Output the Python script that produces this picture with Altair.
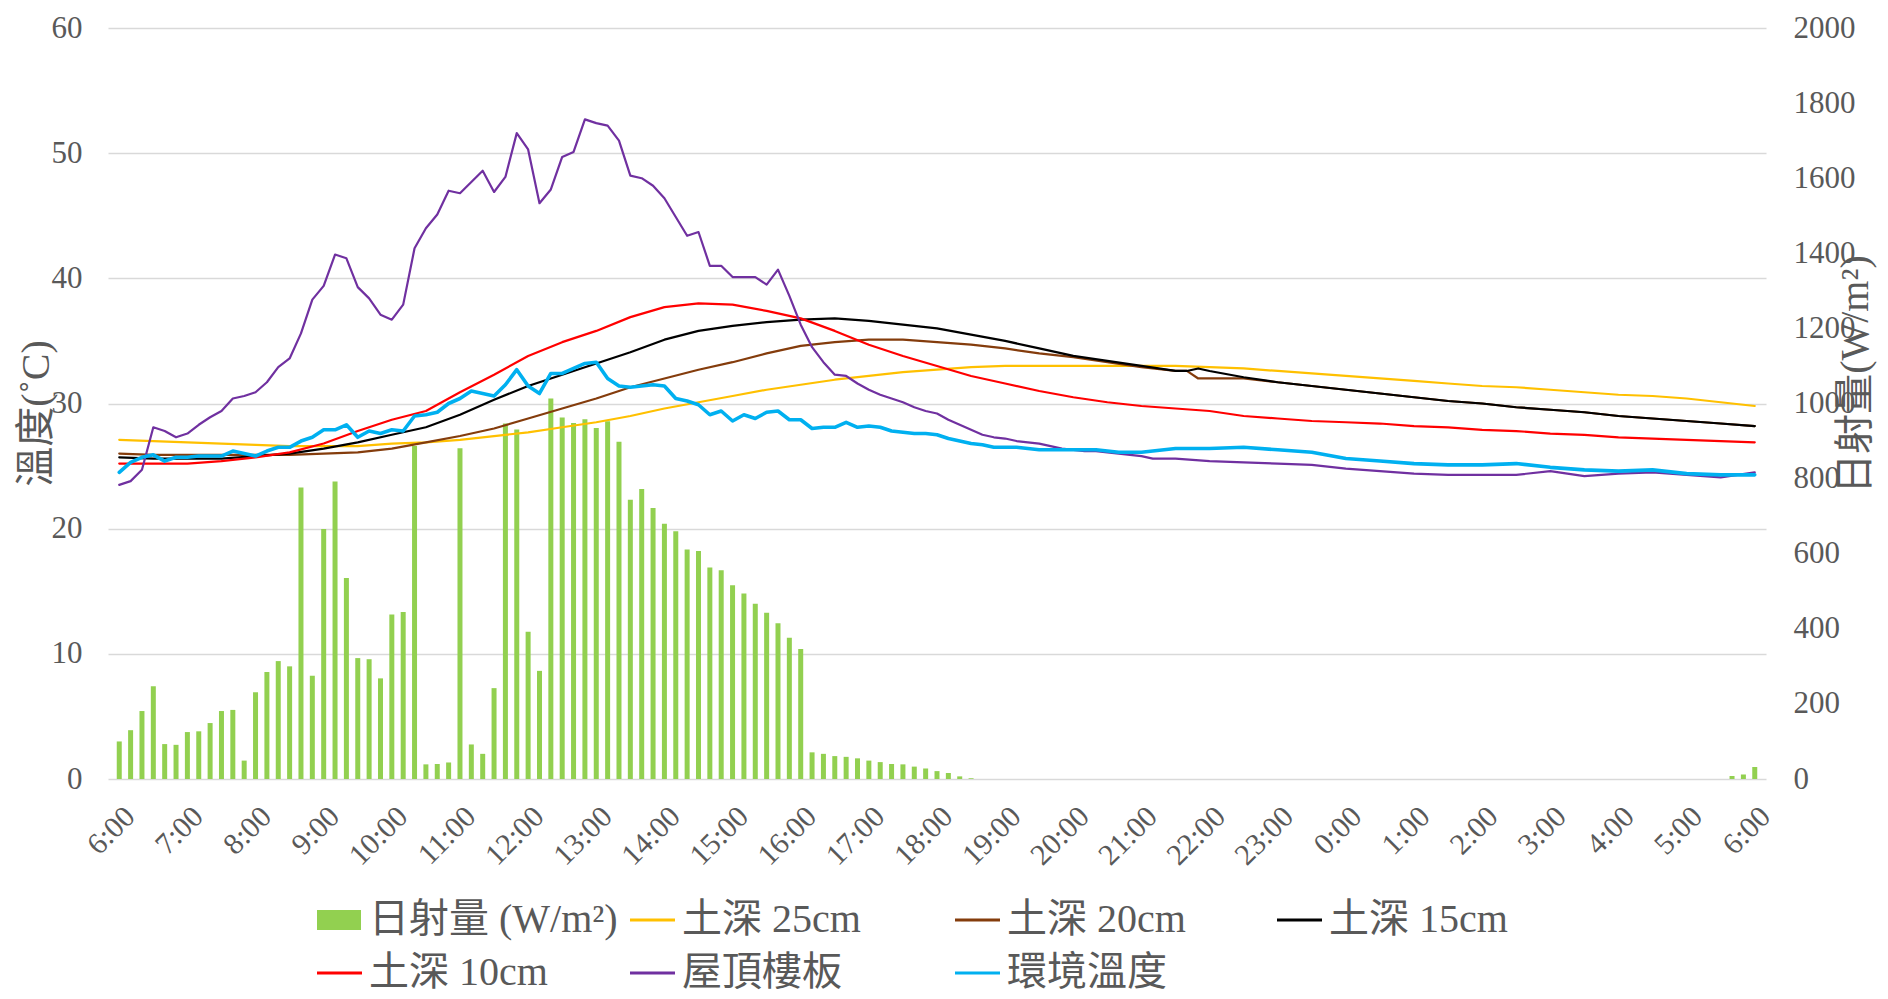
import altair as alt
import pandas as pd

FONT = "Liberation Serif, Noto Sans CJK TC"
TEXT_COLOR = "#595959"
GRID_COLOR = "#d9d9d9"

# ---------------- data ----------------
# 10-minute solar radiation (W/m2), 6:00 -> 6:00 next day
RADIATION = [
    100, 130, 181, 247, 93, 91,
    125, 127, 149, 181, 184, 49,
    231, 285, 314, 300, 776, 275,
    666, 792, 535, 322, 319, 268,
    438, 445, 887, 39, 40, 44,
    881, 92, 67, 242, 947, 931,
    392, 288, 1013, 963, 948, 958,
    935, 953, 898, 744, 772, 722,
    680, 660, 611, 607, 563, 556,
    516, 494, 467, 443, 415, 376,
    346, 71, 67, 61, 59, 55,
    49, 45, 40, 39, 33, 28,
    21, 16, 7, 2, 0, 0,
] + [0] * 60 + [0, 0, 0, 0, 8, 12, 32]

# half-hourly soil temperatures (deg C), 6:00 -> 6:00
SOIL25 = [27.1, 27.0, 26.9, 26.8, 26.7, 26.6, 26.6, 26.6, 26.8, 26.9,
          27.1, 27.4, 27.7, 28.1, 28.5, 29.0, 29.6, 30.1, 30.6, 31.1,
          31.5, 31.9, 32.2, 32.5, 32.7, 32.9, 33.0, 33.0, 33.0, 33.0,
          33.0, 33.0, 32.9, 32.8, 32.6, 32.4, 32.2, 32.0, 31.8, 31.6,
          31.4, 31.3, 31.1, 30.9, 30.7, 30.6, 30.4, 30.1, 29.8]
SOIL10 = [25.2, 25.2, 25.2, 25.4, 25.7, 26.1, 26.8, 27.8, 28.7, 29.4,
          30.9, 32.3, 33.8, 34.9, 35.8, 36.9, 37.7, 38.0, 37.9, 37.4,
          36.8, 35.8, 34.7, 33.8, 33.0, 32.2, 31.6, 31.0, 30.5, 30.1,
          29.8, 29.6, 29.4, 29.0, 28.8, 28.6, 28.5, 28.4, 28.2, 28.1,
          27.9, 27.8, 27.6, 27.5, 27.3, 27.2, 27.1, 27.0, 26.9]
# half-hourly plus 21:40 and 21:50
SOIL20 = [26.0, 25.9, 25.9, 25.9, 25.9, 25.9, 26.0, 26.1, 26.4, 26.9,
          27.4, 28.0, 28.8, 29.6, 30.4, 31.3, 32.0, 32.7, 33.3, 34.0,
          34.6, 34.9, 35.1, 35.1, 34.9, 34.7, 34.4, 34.0, 33.7, 33.3,
          32.9, 32.6, 32.6, 32.0, 32.0, 32.0, 31.7, 31.4, 31.1, 30.8, 30.5, 30.2,
          30.0, 29.7, 29.5, 29.3, 29.0, 28.8, 28.6, 28.4, 28.2]
SOIL15 = [25.7, 25.6, 25.6, 25.6, 25.8, 26.0, 26.4, 26.9, 27.5, 28.1,
          29.1, 30.3, 31.4, 32.3, 33.2, 34.1, 35.1, 35.8, 36.2, 36.5,
          36.7, 36.8, 36.6, 36.3, 36.0, 35.5, 35.0, 34.4, 33.8, 33.4,
          33.0, 32.6, 32.6, 32.8, 32.6, 32.1, 31.7, 31.4, 31.1, 30.8, 30.5, 30.2,
          30.0, 29.7, 29.5, 29.3, 29.0, 28.8, 28.6, 28.4, 28.2]
# 10-minute values 6:00-21:30, then half-hourly 22:00-6:00
ROOF = [23.5, 23.8, 24.7, 28.1, 27.8, 27.3,
        27.6, 28.3, 28.9, 29.4, 30.4, 30.6,
        30.9, 31.7, 32.9, 33.6, 35.6, 38.3,
        39.4, 41.9, 41.6, 39.3, 38.4, 37.1,
        36.7, 37.9, 42.4, 44.0, 45.1, 47.0,
        46.8, 47.7, 48.6, 46.9, 48.1, 51.6,
        50.3, 46.0, 47.1, 49.7, 50.1, 52.7,
        52.4, 52.2, 51.0, 48.2, 48.0, 47.4,
        46.4, 44.9, 43.4, 43.7, 41.0, 41.0,
        40.1, 40.1, 40.1, 39.5, 40.7, 38.6,
        36.3, 34.5, 33.3, 32.3, 32.2, 31.6,
        31.1, 30.7, 30.4, 30.1, 29.7, 29.4,
        29.2, 28.7, 28.3, 27.9, 27.5, 27.3,
        27.2, 27.0, 26.9, 26.8, 26.6, 26.4,
        26.3, 26.2, 26.2, 26.1, 26.0, 25.9,
        25.8, 25.6, 25.6, 25.6,
        25.4, 25.3, 25.2, 25.1, 24.8, 24.6, 24.4, 24.3, 24.3,
        24.3, 24.6, 24.2, 24.4, 24.5, 24.3, 24.1, 24.5]
AMBIENT = [24.5, 25.3, 25.7, 25.9, 25.4, 25.7,
           25.7, 25.8, 25.8, 25.8, 26.2, 26.0,
           25.8, 26.2, 26.5, 26.5, 27.0, 27.3,
           27.9, 27.9, 28.3, 27.3, 27.8, 27.6,
           27.9, 27.8, 29.0, 29.1, 29.3, 30.0,
           30.4, 31.0, 30.8, 30.6, 31.5, 32.7,
           31.4, 30.8, 32.4, 32.4, 32.8, 33.2,
           33.3, 32.0, 31.4, 31.3, 31.4, 31.5,
           31.4, 30.4, 30.2, 29.9, 29.1, 29.4,
           28.6, 29.1, 28.8, 29.3, 29.4, 28.7,
           28.7, 28.0, 28.1, 28.1, 28.5, 28.1,
           28.2, 28.1, 27.8, 27.7, 27.6, 27.6,
           27.5, 27.2, 27.0, 26.8, 26.7, 26.5,
           26.5, 26.5, 26.4, 26.3, 26.3, 26.3,
           26.3, 26.3, 26.3, 26.2, 26.1, 26.1,
           26.1, 26.2, 26.3, 26.4,
           26.4, 26.5, 26.3, 26.1, 25.6, 25.4, 25.2, 25.1, 25.1,
           25.2, 24.9, 24.7, 24.6, 24.7, 24.4, 24.3, 24.3]

BAR_NAME = "日射量 (W/m²)"
LINE_NAMES = ["土深 25cm", "土深 20cm", "土深 15cm", "土深 10cm", "屋頂樓板", "環境溫度"]
LINE_COLORS = ["#ffc000", "#843c0c", "#000000", "#ff0000", "#7030a0", "#00b0f0"]
LINE_WIDTHS = [2.2, 2.2, 2.2, 2.2, 2.2, 3.6]

# time axes (minutes after 6:00)
HOUR_TICKS = list(range(0, 1441, 60))
RAD_T = [10 * i for i in range(len(RADIATION))]
HALF_T = list(range(0, 1441, 30))
BUMP_T = HALF_T[:32] + [940, 950] + HALF_T[32:]
DAYNIGHT_T = list(range(0, 931, 10)) + list(range(960, 1441, 30))

SERIES = [SOIL25, SOIL20, SOIL15, SOIL10, ROOF, AMBIENT]
SERIES_T = [HALF_T, BUMP_T, BUMP_T, HALF_T, DAYNIGHT_T, DAYNIGHT_T]

# ---------------- chart ----------------
xscale = alt.Scale(domain=[-5.5, 1445.5], nice=False, zero=False)
tscale = alt.Scale(domain=[0, 60], nice=False)

x_axis = alt.Axis(
    values=HOUR_TICKS,
    labelExpr="(floor(datum.value / 60) + 6) % 24 + ':00'",
    labelAngle=315, labelFontSize=30, labelPadding=22,
    labelOverlap=False, labelFlush=False,
    ticks=False, domain=False, grid=False, title=None,
)

left_axis = alt.Axis(
    orient="left", values=list(range(0, 61, 10)), format="d",
    labelFontSize=31, labelPadding=26,
    ticks=False, domain=False, grid=True,
    gridColor=GRID_COLOR, gridWidth=1.3,
    title="溫度(˚C)", titleFontSize=40,
    titleX=-72, titleY=385, titleAngle=270,
    titleBaseline="middle", titleAlign="center",
)

right_axis = alt.Axis(
    orient="right", values=list(range(0, 2001, 200)), format="d",
    labelFontSize=31, labelPadding=27,
    ticks=False, domain=False, grid=False,
    title="日射量(W/m²)", titleFontSize=40,
    titleX=89, titleY=346, titleAngle=270,
    titleBaseline="middle", titleAlign="center",
)

rad_df = pd.DataFrame({"t": RAD_T, "rad": RADIATION})
bars = alt.Chart(rad_df).mark_bar(size=5, color="#92d050").encode(
    x=alt.X("t:Q", scale=xscale, axis=x_axis),
    y=alt.Y("rad:Q", scale=alt.Scale(domain=[0, 2000], nice=False), axis=right_axis),
)

line_layers = []
for i, (vals, ts) in enumerate(zip(SERIES, SERIES_T)):
    df = pd.DataFrame({"t": ts, "v": vals})
    line_layers.append(
        alt.Chart(df).mark_line(
            color=LINE_COLORS[i], strokeWidth=LINE_WIDTHS[i],
            strokeJoin="round", strokeCap="round",
        ).encode(
            x=alt.X("t:Q", scale=xscale, axis=x_axis),
            y=alt.Y("v:Q", scale=tscale, axis=left_axis),
        )
    )
lines = alt.layer(*line_layers)

main = alt.layer(bars, lines).resolve_scale(y="independent")

# ---------------- legend (built from the series names) ----------------
labels = [BAR_NAME] + LINE_NAMES
leg_df = pd.DataFrame({
    "label": labels,
    "col": [i % 4 for i in range(len(labels))],
    "row": [i // 4 for i in range(len(labels))],
})
lx = alt.X("col:Q", scale=alt.Scale(domain=[0, 1, 2, 3], range=[209, 522, 847, 1169]), axis=None)
ly = alt.Y("row:Q", scale=alt.Scale(domain=[0, 1], range=[892, 945]), axis=None)

RECT_PATH = "M-1,-0.4545H1V0.4545H-1Z"
leg_bar = alt.Chart(leg_df.iloc[:1]).mark_point(
    shape=RECT_PATH, size=1936, filled=True, color="#92d050", opacity=1, xOffset=22
).encode(x=lx, y=ly)
leg_lines = alt.Chart(leg_df.iloc[1:]).mark_point(
    shape="stroke", size=2025, strokeWidth=3, filled=False, opacity=1, xOffset=22.5
).encode(
    x=lx, y=ly,
    color=alt.Color("label:N", scale=alt.Scale(domain=LINE_NAMES, range=LINE_COLORS), legend=None),
)
leg_text = alt.Chart(leg_df).mark_text(
    align="left", baseline="middle", dx=52, fontSize=40, font=FONT, color=TEXT_COLOR
).encode(x=lx, y=ly, text="label:N")
legend = alt.layer(leg_bar, leg_lines, leg_text)

chart = alt.layer(main, legend).resolve_scale(
    x="independent", y="independent", color="independent"
).properties(
    width=1658, height=751,
    padding={"left": 8, "top": 4, "right": 4, "bottom": 0},
    background="white",
).configure_view(stroke=None).configure_axis(
    labelFont=FONT, titleFont=FONT, labelColor=TEXT_COLOR,
    titleColor=TEXT_COLOR, titleFontWeight="normal",
)

chart.save("out.html", embed_options={"renderer": "svg", "actions": False})
